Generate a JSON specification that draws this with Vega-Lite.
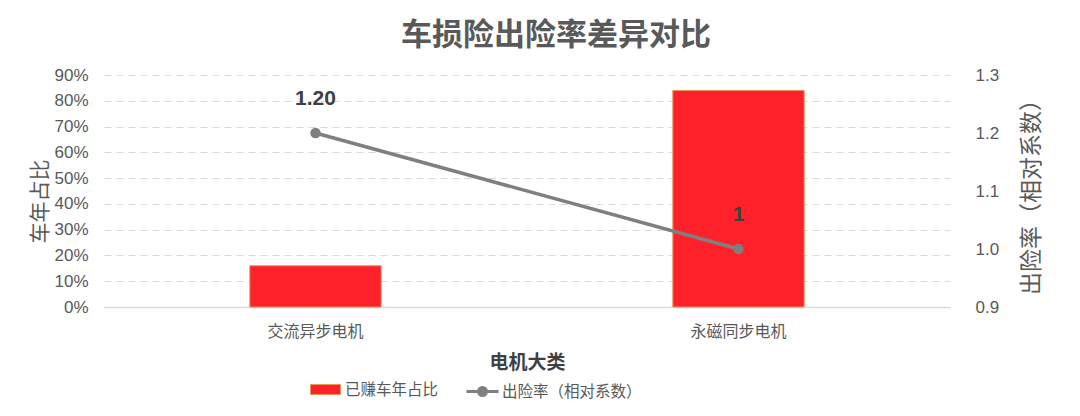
{
  "$schema": "https://vega.github.io/schema/vega-lite/v6.json",
  "autosize": {"type": "none"},
  "padding": {"left": 104, "top": 75, "right": 130, "bottom": 109},
  "width": 846,
  "height": 232,
  "background": "#FFFFFF",
  "title": {
    "text": "车损险出险率差异对比",
    "font": "Noto Sans CJK SC",
    "fontSize": 31,
    "fontWeight": "bold",
    "color": "#595959",
    "anchor": "middle",
    "frame": "group",
    "dx": 29,
    "offset": 14
  },
  "data": {
    "values": [
      {"motor": "交流异步电机", "share": 0.16, "rate": 1.2, "label": "1.20"},
      {"motor": "永磁同步电机", "share": 0.84, "rate": 1.0, "label": "1"}
    ]
  },
  "encoding": {
    "x": {
      "field": "motor",
      "type": "nominal",
      "sort": null,
      "title": "电机大类",
      "axis": {
        "labelAngle": 0,
        "labelFont": "Noto Sans CJK SC",
        "labelFontSize": 16,
        "labelColor": "#595959",
        "labelPadding": 16,
        "ticks": false,
        "domainColor": "#D9D9D9",
        "domainWidth": 1.5,
        "titleFont": "Noto Sans CJK SC",
        "titleFontSize": 19,
        "titleFontWeight": "bold",
        "titleColor": "#404040",
        "titlePadding": 14
      }
    }
  },
  "layer": [
    {
      "mark": {"type": "bar", "width": {"band": 0.345}, "stroke": "#E8945A", "strokeWidth": 1},
      "encoding": {
        "y": {
          "field": "share",
          "type": "quantitative",
          "scale": {"domain": [0, 0.9]},
          "title": "车年占比",
          "axis": {
            "values": [0, 0.1, 0.2, 0.3, 0.4, 0.5, 0.6, 0.7, 0.8, 0.9],
            "format": ".0%",
            "labelFont": "Liberation Sans",
            "labelFontSize": 17,
            "labelColor": "#595959",
            "labelPadding": 16,
            "ticks": false,
            "domain": false,
            "grid": true,
            "gridColor": "#D9D9D9",
            "gridDash": [7, 5],
            "gridWidth": 1.2,
            "titleFont": "Noto Sans CJK SC",
            "titleFontSize": 21,
            "titleFontWeight": "normal",
            "titleColor": "#595959",
            "titleY": 126,
            "titlePadding": 3
          }
        },
        "fill": {
          "datum": "已赚车年占比",
          "scale": {"range": ["#FF2129"]},
          "legend": {
            "orient": "none",
            "legendX": 206,
            "legendY": 299,
            "title": null,
            "symbolType": "M-1,-0.333H1V0.333H-1Z",
            "symbolSize": 900,
            "symbolStrokeColor": "#E8945A",
            "symbolStrokeWidth": 1,
            "labelFont": "Noto Sans CJK SC",
            "labelFontSize": 15.5,
            "labelColor": "#595959",
            "labelOffset": 4
          }
        }
      }
    },
    {
      "mark": {"type": "line", "strokeWidth": 3.5},
      "encoding": {
        "y": {
          "field": "rate",
          "type": "quantitative",
          "scale": {"domain": [0.9, 1.3]},
          "title": "出险率（相对系数）",
          "axis": {
            "orient": "right",
            "values": [0.9, 1.0, 1.1, 1.2, 1.3],
            "format": ".1f",
            "labelFont": "Liberation Sans",
            "labelFontSize": 17,
            "labelColor": "#595959",
            "labelPadding": 25,
            "ticks": false,
            "domain": false,
            "grid": false,
            "titleFont": "Noto Sans CJK SC",
            "titleFontSize": 23,
            "titleFontWeight": "normal",
            "titleColor": "#595959",
            "titleAngle": 270,
            "titlePadding": 45
          }
        },
        "stroke": {
          "datum": "出险率（相对系数）",
          "scale": {"range": ["#7F7F7F"]},
          "legend": {
            "orient": "none",
            "legendX": 361,
            "legendY": 299,
            "title": null,
            "symbolType": "M-1,0H1M0.25,0A0.25,0.25,0,1,1,-0.25,0A0.25,0.25,0,1,1,0.25,0",
            "symbolSize": 1024,
            "symbolStrokeWidth": 3,
            "labelFont": "Noto Sans CJK SC",
            "labelFontSize": 15.5,
            "labelColor": "#595959",
            "labelOffset": 2,
            "encode": {"symbols": {"update": {"fill": {"value": "#7F7F7F"}}}}
          }
        }
      }
    },
    {
      "mark": {"type": "point", "filled": true, "size": 110, "color": "#7F7F7F", "opacity": 1},
      "encoding": {
        "y": {"field": "rate", "type": "quantitative", "scale": {"domain": [0.9, 1.3]}, "axis": null}
      }
    },
    {
      "mark": {"type": "text", "font": "Liberation Sans", "fontSize": 21, "fontWeight": "bold", "color": "#404040", "dy": -34},
      "encoding": {
        "y": {"field": "rate", "type": "quantitative", "scale": {"domain": [0.9, 1.3]}, "axis": null},
        "text": {"field": "label"}
      }
    }
  ],
  "resolve": {"scale": {"y": "independent"}},
  "config": {
    "view": {"stroke": null},
    "axis": {"labelFont": "Noto Sans CJK SC", "titleFont": "Noto Sans CJK SC"}
  }
}
